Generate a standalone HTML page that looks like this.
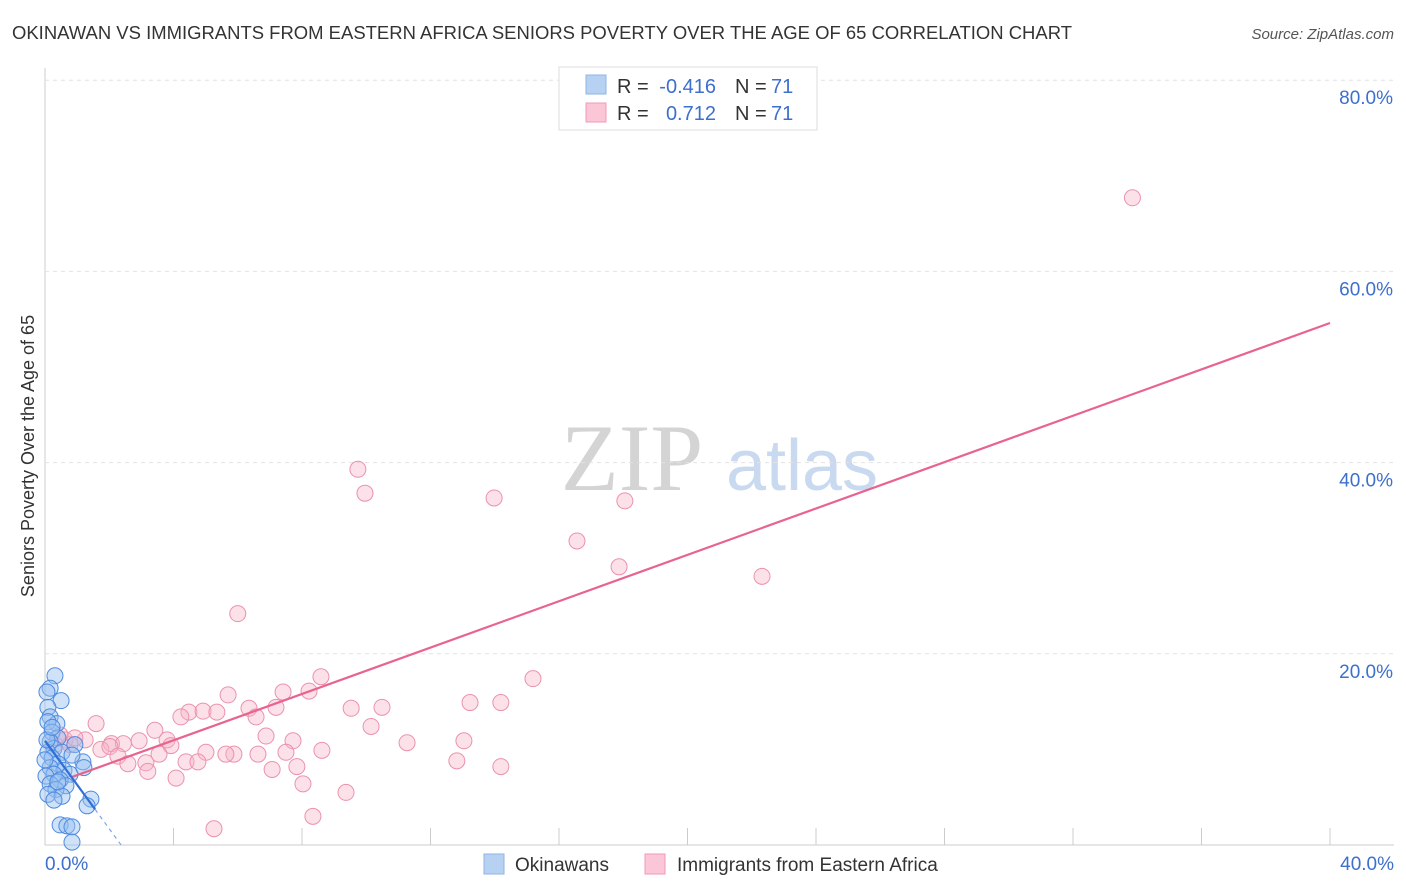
<!DOCTYPE html>
<html><head><meta charset="utf-8"><style>
body{margin:0;background:#fff;font-family:"Liberation Sans",sans-serif;}
#wrap{position:relative;width:1406px;height:892px;overflow:hidden;}
</style></head><body><div id="wrap">
<svg id="svg" width="1406" height="892" xmlns="http://www.w3.org/2000/svg">
<text x="12" y="39" font-size="18" fill="#333" textLength="1060" lengthAdjust="spacingAndGlyphs">OKINAWAN VS IMMIGRANTS FROM EASTERN AFRICA SENIORS POVERTY OVER THE AGE OF 65 CORRELATION CHART</text>
<text x="1394" y="39" font-size="15" fill="#555" font-style="italic" text-anchor="end">Source: ZipAtlas.com</text>
<text x="0" y="0" transform="translate(34,456) rotate(-90)" font-size="18" fill="#333" text-anchor="middle">Seniors Poverty Over the Age of 65</text>
<g><text x="632" y="490" font-size="95" fill="#d4d4d4" font-family="Liberation Serif,serif" text-anchor="middle">ZIP</text><text x="802" y="490" font-size="72" fill="#c9d9ef" text-anchor="middle">atlas</text></g>
<g id="grid"></g><g id="marks"></g>
<g>
<rect x="559" y="67" width="258" height="63" fill="#fff" stroke="#ddd"/>
<rect x="586" y="75" width="20" height="19" fill="#b7d1f3" stroke="#8fb4e6"/>
<rect x="586" y="103" width="20" height="19" fill="#fbc7d6" stroke="#f09ab4"/>
<text x="617" y="93" font-size="20" fill="#333">R =</text>
<text x="716" y="93" font-size="20" fill="#3d6fcc" text-anchor="end">-0.416</text>
<text x="735" y="93" font-size="20" fill="#333">N =</text>
<text x="771" y="93" font-size="20" fill="#3d6fcc">71</text>
<text x="617" y="120" font-size="20" fill="#333">R =</text>
<text x="716" y="120" font-size="20" fill="#3d6fcc" text-anchor="end">0.712</text>
<text x="735" y="120" font-size="20" fill="#333">N =</text>
<text x="771" y="120" font-size="20" fill="#3d6fcc">71</text>
</g>
<g>
<rect x="484" y="854" width="20" height="20" fill="#b7d1f3" stroke="#8fb4e6"/>
<text x="515" y="871" font-size="19" fill="#333">Okinawans</text>
<rect x="645" y="854" width="20" height="20" fill="#fbc7d6" stroke="#f09ab4"/>
<text x="677" y="871" font-size="19" fill="#333">Immigrants from Eastern Africa</text>
</g>
</svg></div>
<script>
const xTicks=[0,4,8,12,16,20,24,28,32,36,40];
const yTicks=[20,40,60,80];
const pinkX=[33.85,9.74,9.96,13.98,18.05,16.56,17.87,22.32,6.0,15.19,8.59,8.22,7.41,5.7,13.23,14.19,10.49,9.53,6.35,7.19,4.48,4.92,5.35,4.23,6.57,1.59,3.42,10.15,6.88,7.72,3.8,2.93,1.25,2.07,2.44,3.92,11.27,13.04,8.62,1.74,2.02,5.01,5.88,7.5,3.55,5.63,2.27,6.63,4.39,3.14,2.58,4.76,12.82,14.19,7.07,7.84,3.2,4.08,8.03,9.37,8.34,5.26,0.62,0.31,0.78,0.47,0.93];
const pinkY=[67.7,39.3,36.8,36.3,36.0,31.8,29.1,28.1,24.2,17.4,17.6,16.1,16.0,15.7,14.9,14.9,14.4,14.3,14.3,14.4,13.9,14.0,13.9,13.4,13.4,12.7,12.0,12.4,11.4,10.9,11.0,10.9,11.0,10.6,10.6,10.4,10.7,10.9,9.9,10.0,10.3,9.7,9.5,9.7,9.5,9.5,9.3,9.5,8.7,8.6,8.5,8.7,8.8,8.2,7.9,8.2,7.7,7.0,6.4,5.5,3.0,1.7,11.0,10.5,10.5,11.5,11.2];
const blueX=[0.31,0.16,0.06,0.5,0.09,0.16,0.37,0.09,0.22,0.4,0.16,0.28,0.09,0.53,0.22,0.4,0.16,0.59,0.28,0.03,0.78,0.47,0.16,0.65,0.34,0.09,0.53,0.28,1.18,1.21,0.93,0.84,1.43,1.31,0.47,0.68,0.84,0.84,0,0.06,0.22,0.4];
const blueY=[17.7,16.4,16.0,15.1,14.4,13.4,12.7,12.9,11.8,11.2,10.8,10.1,9.7,9.7,9.1,8.5,8.1,7.8,7.4,7.2,7.4,6.8,6.4,6.2,5.8,5.3,5.1,4.7,8.7,8.1,10.5,9.4,4.8,4.1,2.1,2.0,1.9,0.3,8.9,11.0,12.3,6.6];
const pinkFit=[6.1,54.6];
const blueFit=[10.9,-4.6];
const X=v=>45+v*32.125, Y=v=>845-v*9.56;
const NS="http://www.w3.org/2000/svg";
function mk(t,a,p){const e=document.createElementNS(NS,t);for(const k in a)e.setAttribute(k,a[k]);p.appendChild(e);return e;}
const g=document.getElementById('grid'),m=document.getElementById('marks');
mk('line',{x1:45,y1:68,x2:45,y2:845,stroke:'#ccc'},g);
mk('line',{x1:45,y1:845,x2:1394,y2:845,stroke:'#ccc'},g);
yTicks.forEach(t=>{const l=mk('line',{x1:45,y1:Y(t),x2:1394,y2:Y(t),stroke:'#e2e2e2','stroke-dasharray':'4,4'},g);


const tx=mk('text',{x:1393,y:Y(t)+24,'font-size':19,fill:'#3d6fcc','text-anchor':'end'},g);tx.textContent=t.toFixed(1)+'%';

});
xTicks.forEach((t,i)=>{if(i>0){const l=mk('line',{x1:X(t),y1:828,x2:X(t),y2:845,stroke:'#ccc'},g);

}});
[[0,'start',45],[40,'end',1394]].forEach(([t,a,x])=>{const tx=mk('text',{x:x,y:870,'font-size':19,fill:'#3d6fcc','text-anchor':a},g);tx.textContent=t.toFixed(1)+'%';

});
pinkX.forEach((v,i)=>{const c=mk('circle',{cx:X(v),cy:Y(pinkY[i]),r:8,fill:'rgba(248,180,200,0.4)',stroke:'#eb92ae','stroke-width':1},m);

});
blueX.forEach((v,i)=>{const c=mk('circle',{cx:X(v),cy:Y(blueY[i]),r:8,fill:'rgba(150,190,240,0.45)',stroke:'#4d8be0','stroke-width':1},m);

});
let l=mk('line',{x1:X(0.8),y1:Y(pinkFit[0]+(pinkFit[1]-pinkFit[0])*0.8/40),x2:X(40),y2:Y(pinkFit[1]),stroke:'#e8648f','stroke-width':2.2},m);


const xe=1.56,x0=-blueFit[0]/blueFit[1];
l=mk('line',{x1:X(0),y1:Y(blueFit[0]),x2:X(xe),y2:Y(blueFit[0]+blueFit[1]*xe),stroke:'#2f6fd6','stroke-width':2.2},m);


l=mk('line',{x1:X(xe),y1:Y(blueFit[0]+blueFit[1]*xe),x2:X(x0),y2:Y(0),stroke:'#7fa6e0','stroke-width':1.2,'stroke-dasharray':'4,4'},m);


</script></body></html>
